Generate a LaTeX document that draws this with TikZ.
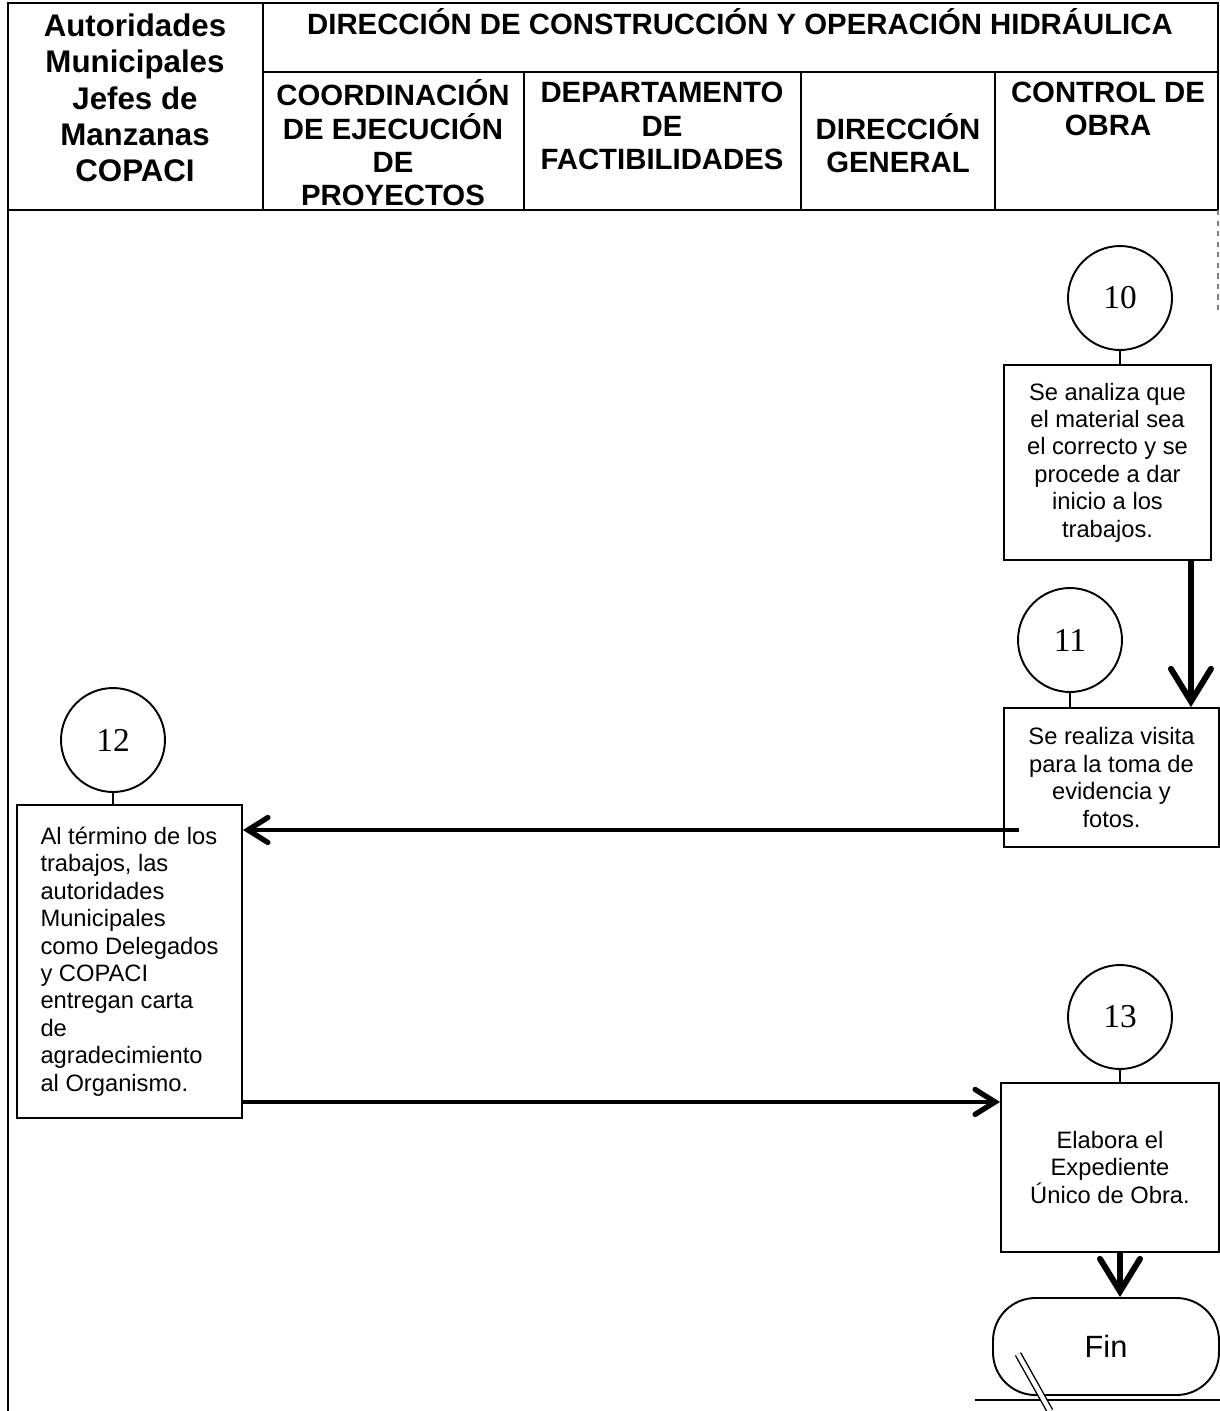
\documentclass[tikz,border=0pt]{standalone}
\usepackage{fontspec}
\setmainfont{Liberation Sans}
\newfontfamily\numfont{Liberation Serif}
\usetikzlibrary{arrows.meta,positioning,calc}

\begin{document}
\begin{tikzpicture}[
    x=0.02cm, y=-0.02cm,
    lanehead/.style={
      font=\fontsize{16.7}{19}\selectfont\bfseries,
      align=center,
      inner sep=0pt
    },
    stepbox/.style={
      draw,
      line width=1.1pt,
      font=\fontsize{13.5}{15.6}\selectfont,
      align=center,
      inner sep=0pt
    },
    stepnum/.style={
      circle,
      draw,
      line width=1.1pt,
      minimum size=2.08cm,
      inner sep=0pt,
      font=\numfont\fontsize{19}{20}\selectfont
    },
    endcap/.style={
      draw,
      rounded corners=0.85cm,
      line width=1.1pt,
      minimum width=4.52cm,
      minimum height=1.94cm,
      font=\fontsize{17.5}{19}\selectfont
    },
    link/.style={line width=1.1pt},
    flow/.style={
      -{Straight Barb[length=6.5mm,width=8mm,line cap=round]},
      line width=3.4pt
    },
    hflow/.style={
      -{Straight Barb[length=4mm,width=5mm,line cap=round,line width=3pt]},
      line width=2pt
    }]

    \useasboundingbox (0,0) rectangle (1220,1411);

    % Frame and lanes
    \draw[link] (8,3) rectangle (1218,210);
    \draw[link] (8,210) -- (8,1411);
    \draw[link] (263,3) -- (263,210);
    \draw[link] (263,72) -- (1218,72);
    \foreach \lx in {524,801,995}
      \draw[link] (\lx,72) -- (\lx,210);
    \draw[line width=0.6pt,dashed,black!50] (1218,210) -- (1218,310);
    \draw[link] (975,1400) -- (1220,1400);

    % Lane headings
    \node[lanehead,font=\fontsize{17.8}{20.7}\selectfont\bfseries] (hmun) at (135,98)
      {Autoridades\\Municipales\\Jefes de\\Manzanas\\COPACI};
    \node[lanehead] (hdir) at (740,22)
      {DIRECCIÓN DE CONSTRUCCIÓN Y OPERACIÓN HIDRÁULICA};
    \node[lanehead] (hcoord) at (393,143)
      {COORDINACIÓN\\DE EJECUCIÓN\\DE\\PROYECTOS};
    \node[lanehead] (hfact) at (662,126)
      {DEPARTAMENTO\\DE\\FACTIBILIDADES};
    \node[lanehead] (hgen) at (898,143)
      {DIRECCIÓN\\GENERAL};
    \node[lanehead] (hctrl) at (1108,109)
      {CONTROL DE\\OBRA};

    % Step 10
    \node[stepnum] (n10) at (1120,298) {10};
    \node[stepbox,minimum width=4.14cm,minimum height=3.9cm] (s10) at (1107.5,462.5)
      {Se analiza que\\el material sea\\el correcto y se\\procede a dar\\inicio a los\\trabajos.};

    % Step 11
    \node[stepnum] (n11) at (1070,640) {11};
    \node[stepbox,minimum width=4.3cm,minimum height=2.78cm] (s11) at (1111.5,777.5)
      {Se realiza visita\\para la toma de\\evidencia y\\fotos.};

    % Step 12
    \node[stepnum] (n12) at (113,740) {12};
    \node[stepbox,align=left,minimum width=4.5cm,minimum height=6.26cm] (s12) at (129.5,961.5)
      {Al término de los\\trabajos, las\\autoridades\\Municipales\\como Delegados\\y COPACI\\entregan carta\\de\\agradecimiento\\al Organismo.};

    % Step 13
    \node[stepnum] (n13) at (1120,1017) {13};
    \node[stepbox,minimum width=4.36cm,minimum height=3.38cm] (s13) at (1110,1167.5)
      {Elabora el\\Expediente\\Único de Obra.};

    % End
    \node[endcap] (fin) at (1106,1346.5) {Fin};

    % Connectors
    \draw[link] (n10.south) -- (n10.south |- s10.north);
    \draw[link] (n11.south) -- (n11.south |- s11.north);
    \draw[link] (n12.south) -- (n12.south |- s12.north);
    \draw[link] (n13.south) -- (n13.south |- s13.north);
    \draw[flow] ([xshift=-0.42cm]s10.south east) -- ([xshift=-0.42cm]s10.south east |- s11.north);
    \draw[hflow] ([xshift=0.32cm,yshift=-1.05cm]s11.west) -- ([yshift=-1.05cm]s11.west -| s12.east);
    \draw[hflow] ([yshift=0.34cm]s12.south east) -- ([yshift=0.34cm]s12.south east -| s13.west);
    \draw[flow] (n13 |- s13.south) -- (n13 |- fin.north);

    % Stray pen mark
    \draw[line width=0.8pt,double,double distance=2.5pt] (1018,1354) -- (1050,1411);
  \end{tikzpicture}
\end{document}
